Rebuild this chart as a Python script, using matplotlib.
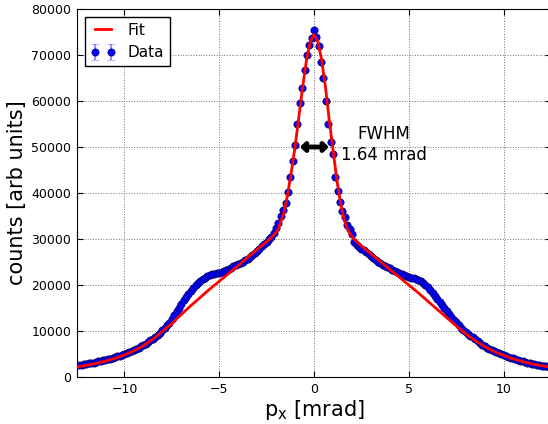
"""Momentum distribution p_x with narrow peak fit and FWHM marker."""

import matplotlib

matplotlib.use("Agg")
import matplotlib.pyplot as plt
import numpy as np

# measured counts, one value per 0.125 mrad bin from -12.375 to 12.375
counts = [
    2560, 2650, 2760, 2880, 2960, 3060, 3150, 3270,
    3380, 3480, 3590, 3700, 3850, 3990, 4140, 4300,
    4460, 4630, 4810, 5000, 5200, 5420, 5630, 5870,
    6100, 6360, 6640, 6950, 7270, 7600, 7960, 8330,
    8720, 9180, 9660, 10150, 10650, 11200, 11800, 12600,
    13500, 14300, 15100, 15900, 16800, 17500, 18100, 18800,
    19300, 19900, 20400, 20800, 21200, 21600, 21900, 22100,
    22300, 22500, 22600, 22700, 22850, 23100, 23300, 23550,
    23800, 24050, 24300, 24550, 24800, 25100, 25350, 25700,
    26100, 26500, 26900, 27400, 27900, 28400, 28900, 29400,
    29900, 30500, 31300, 32300, 33500, 34900, 36300, 37800,
    40200, 43500, 47000, 50500, 55000, 59500, 62800, 66800,
    70000, 72200, 73800, 75500, 74000, 72000, 68500, 65000,
    60000, 55000, 51000, 48500, 43500, 40500, 38000, 36000,
    34800, 33000, 32100, 31000, 29300, 28700, 28300, 27900,
    27500, 27100, 26700, 26300, 25850, 25500, 25100, 24700,
    24400, 24100, 23900, 23600, 23350, 23100, 22900, 22600,
    22400, 22200, 22000, 21800, 21600, 21500, 21350, 21150,
    20800, 20400, 20000, 19500, 18900, 18200, 17600, 16900,
    16300, 15600, 15000, 14300, 13700, 13100, 12500, 11900,
    11300, 10700, 10300, 9800, 9400, 9000, 8600, 8200,
    7800, 7400, 7050, 6700, 6400, 6100, 5850, 5600,
    5350, 5130, 4920, 4780, 4580, 4390, 4210, 4040,
    3870, 3710, 3560, 3410, 3270, 3140, 3020, 2900,
    2790, 2690, 2590, 2500, 2420, 2340, 2270,
]
px = np.linspace(-12.375, 12.375, len(counts))

fit_x = [-12.5, -12, -11.5, -11, -10.5, -10, -9.5, -9, -8.5, -8, -7.5, -7,
         -6.5, -6, -5.5, -5, -4.5, -4, -3.5, -3, -2.5, -2.2, -1.9, -1.6,
         -1.4, -1.2, -1.0, -0.8, -0.6, -0.4, -0.2, 0, 0.2, 0.4, 0.6, 0.8,
         1.0, 1.2, 1.4, 1.6, 1.8, 2.1, 2.5, 3, 3.5, 4, 4.5, 5, 5.5, 6, 6.5,
         7, 7.5, 8, 8.5, 9, 9.5, 10, 10.5, 11, 11.5, 12, 12.5]
fit_y = [2200, 2550, 2950, 3450, 4050, 4800, 5700, 6800, 8200, 9900, 11600,
         13600, 15500, 17300, 19100, 20800, 22500, 24200, 26000, 27700,
         29400, 30500, 32000, 35500, 39500, 44500, 50000, 56500, 63000,
         68800, 72800, 74500, 73000, 69000, 63200, 56000, 49500, 43000,
         37800, 34000, 31800, 30000, 28500, 26800, 25100, 23400, 21700,
         20000, 18300, 16500, 14700, 12900, 11100, 9400, 7900, 6600, 5550,
         4700, 3950, 3350, 2850, 2450, 2150]

fwhm = 1.64
half_max = 50000

fig = plt.figure(figsize=(5.48, 4.24), dpi=100)
ax = fig.add_axes([77 / 548, 47 / 424, 474 / 548, 368 / 424])

ax.errorbar(px, counts, yerr=np.sqrt(counts), fmt="o", color="blue",
            ecolor=(0.3, 0.3, 1.0, 0.6), mec="#000060", mew=0.5, ms=5.2,
            capsize=3, label="Data", zorder=2)
ax.plot(fit_x, fit_y, color="red", lw=2, label="Fit", zorder=3)

ax.annotate("", xy=(-0.74, half_max), xytext=(0.78, half_max),
            arrowprops=dict(arrowstyle="<->, head_length=0.25, head_width=0.25",
                            lw=3.5, color="k", shrinkA=0, shrinkB=0,
                            mutation_scale=10), zorder=4)
ax.text(3.67, 50600, "FWHM\n%.2f mrad" % fwhm, ha="center", va="center",
        fontsize=12, multialignment="center")

ax.set_xlim(-12.5, 12.5)
ax.set_ylim(0, 80000)
ax.set_xticks([-10, -5, 0, 5, 10])
ax.set_yticks(np.arange(0, 80001, 10000))
ax.grid(True, color="0.45", ls=":", lw=0.7)
ax.tick_params(direction="in", top=True, right=True, labelsize=9, pad=4,
               length=4)
ax.set_xlabel(r"p$_{\rm x}$ [mrad]", fontsize=15, labelpad=2)
ax.set_ylabel("counts [arb units]", fontsize=15, labelpad=3)

ax.legend(loc="upper left", numpoints=2, fontsize=11, fancybox=False,
          edgecolor="k", framealpha=1, handlelength=1.6)

fig.savefig("out.png", dpi=100)
